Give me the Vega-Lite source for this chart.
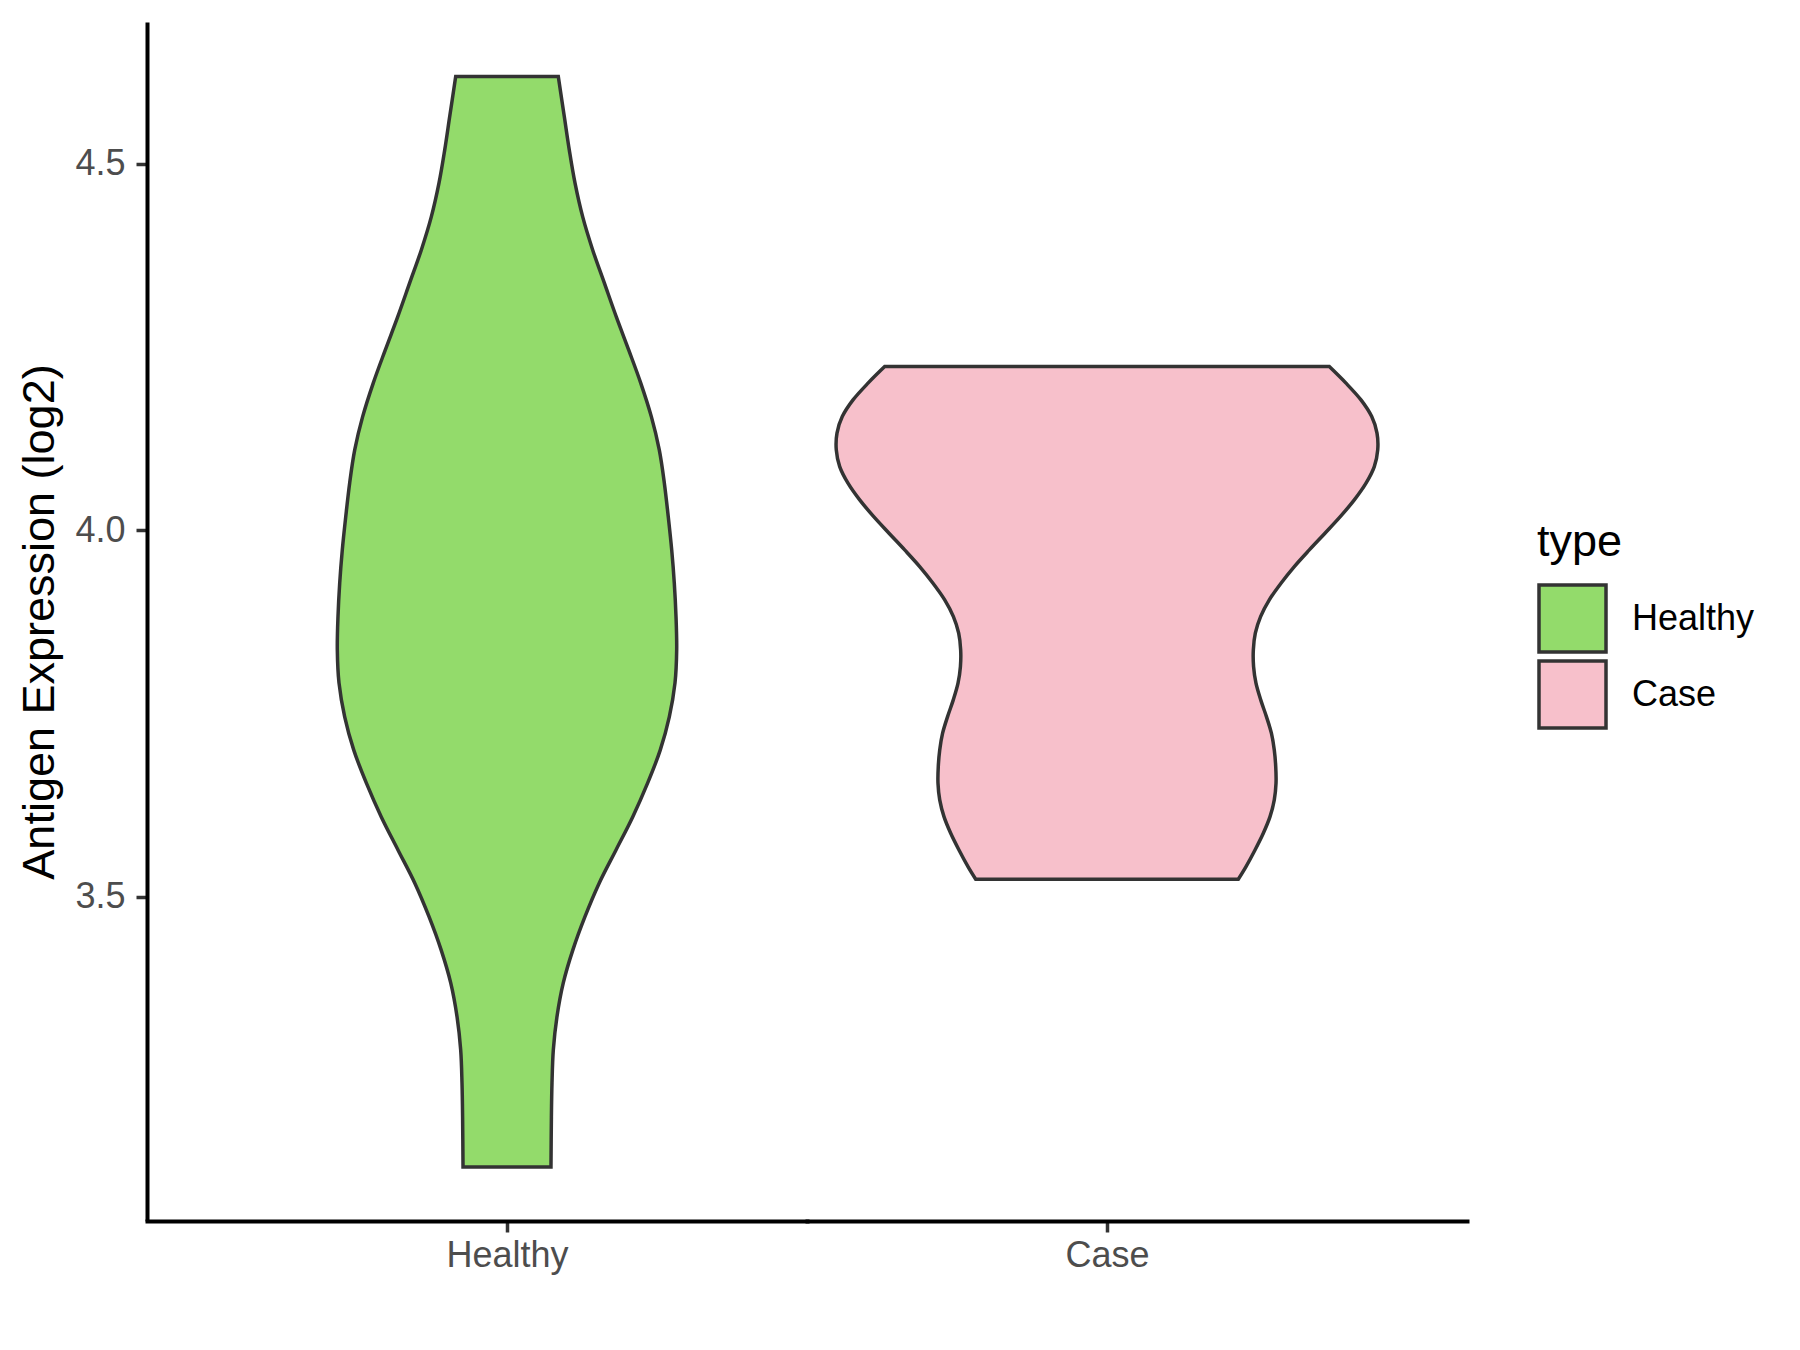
{
  "$schema": "https://vega.github.io/schema/vega-lite/v6.json",
  "background": "white",
  "padding": {"left": 17, "top": 22, "right": 5, "bottom": 5},
  "datasets": {
    "healthy": [
      {"type": "Healthy", "value": 4.6186, "density": 0.171},
      {"type": "Healthy", "value": 4.5640, "density": 0.191},
      {"type": "Healthy", "value": 4.5186, "density": 0.2076},
      {"type": "Healthy", "value": 4.4736, "density": 0.2266},
      {"type": "Healthy", "value": 4.4272, "density": 0.2524},
      {"type": "Healthy", "value": 4.3822, "density": 0.2856},
      {"type": "Healthy", "value": 4.3372, "density": 0.3244},
      {"type": "Healthy", "value": 4.2909, "density": 0.3644},
      {"type": "Healthy", "value": 4.2459, "density": 0.4056},
      {"type": "Healthy", "value": 4.2009, "density": 0.4456},
      {"type": "Healthy", "value": 4.1545, "density": 0.4814},
      {"type": "Healthy", "value": 4.1095, "density": 0.5076},
      {"type": "Healthy", "value": 4.0645, "density": 0.5244},
      {"type": "Healthy", "value": 4.0181, "density": 0.5376},
      {"type": "Healthy", "value": 3.9731, "density": 0.549},
      {"type": "Healthy", "value": 3.9281, "density": 0.5576},
      {"type": "Healthy", "value": 3.8818, "density": 0.5634},
      {"type": "Healthy", "value": 3.8368, "density": 0.5656},
      {"type": "Healthy", "value": 3.7918, "density": 0.56},
      {"type": "Healthy", "value": 3.7454, "density": 0.541},
      {"type": "Healthy", "value": 3.7004, "density": 0.511},
      {"type": "Healthy", "value": 3.6554, "density": 0.469},
      {"type": "Healthy", "value": 3.6090, "density": 0.419},
      {"type": "Healthy", "value": 3.5640, "density": 0.3634},
      {"type": "Healthy", "value": 3.5190, "density": 0.3076},
      {"type": "Healthy", "value": 3.4727, "density": 0.2596},
      {"type": "Healthy", "value": 3.4277, "density": 0.2196},
      {"type": "Healthy", "value": 3.3827, "density": 0.1876},
      {"type": "Healthy", "value": 3.3363, "density": 0.1664},
      {"type": "Healthy", "value": 3.2913, "density": 0.1544},
      {"type": "Healthy", "value": 3.2463, "density": 0.15},
      {"type": "Healthy", "value": 3.2000, "density": 0.148},
      {"type": "Healthy", "value": 3.1318, "density": 0.1466}
    ],
    "case": [
      {"type": "Case", "value": 4.2231, "density": 0.741},
      {"type": "Case", "value": 4.2005, "density": 0.7966},
      {"type": "Case", "value": 4.1777, "density": 0.8466},
      {"type": "Case", "value": 4.1549, "density": 0.8824},
      {"type": "Case", "value": 4.1323, "density": 0.9},
      {"type": "Case", "value": 4.1095, "density": 0.9024},
      {"type": "Case", "value": 4.0867, "density": 0.891},
      {"type": "Case", "value": 4.0641, "density": 0.8634},
      {"type": "Case", "value": 4.0413, "density": 0.8244},
      {"type": "Case", "value": 4.0185, "density": 0.7776},
      {"type": "Case", "value": 3.9959, "density": 0.7266},
      {"type": "Case", "value": 3.9731, "density": 0.6744},
      {"type": "Case", "value": 3.9504, "density": 0.6244},
      {"type": "Case", "value": 3.9277, "density": 0.58},
      {"type": "Case", "value": 3.9050, "density": 0.541},
      {"type": "Case", "value": 3.8822, "density": 0.512},
      {"type": "Case", "value": 3.8595, "density": 0.4944},
      {"type": "Case", "value": 3.8368, "density": 0.4878},
      {"type": "Case", "value": 3.8140, "density": 0.4886},
      {"type": "Case", "value": 3.7914, "density": 0.4966},
      {"type": "Case", "value": 3.7686, "density": 0.5124},
      {"type": "Case", "value": 3.7458, "density": 0.5314},
      {"type": "Case", "value": 3.7232, "density": 0.548},
      {"type": "Case", "value": 3.7004, "density": 0.5576},
      {"type": "Case", "value": 3.6776, "density": 0.5624},
      {"type": "Case", "value": 3.6550, "density": 0.5634},
      {"type": "Case", "value": 3.6322, "density": 0.5576},
      {"type": "Case", "value": 3.6094, "density": 0.5434},
      {"type": "Case", "value": 3.5868, "density": 0.521},
      {"type": "Case", "value": 3.5640, "density": 0.4934},
      {"type": "Case", "value": 3.5413, "density": 0.4634},
      {"type": "Case", "value": 3.5241, "density": 0.4376}
    ]
  },
  "config": {
    "view": {"stroke": null},
    "font": "Liberation Sans",
    "axis": {
      "grid": false,
      "domainColor": "black",
      "domainWidth": 4,
      "tickColor": "#333333",
      "tickWidth": 3.5,
      "tickSize": 11,
      "labelColor": "#4D4D4D",
      "labelFontSize": 36,
      "labelFont": "Liberation Sans",
      "titleFont": "Liberation Sans",
      "titleFontSize": 45,
      "titleFontWeight": "normal",
      "titleColor": "black"
    },
    "axisX": {"domainCap": "square"},
    "legend": {
      "labelFont": "Liberation Sans",
      "titleFont": "Liberation Sans"
    }
  },
  "spacing": 0,
  "hconcat": [
    {
      "width": 660,
      "height": 1199,
      "data": {"name": "healthy"},
      "mark": {"type": "area", "orient": "horizontal", "interpolate": "cardinal", "stroke": "#333333", "strokeWidth": 3.5, "fillOpacity": 1},
      "encoding": {
        "y": {
          "field": "value", "type": "quantitative",
          "scale": {"domain": [3.058, 4.693], "nice": false, "zero": false},
          "axis": {"values": [3.5, 4.0, 4.5], "format": ".1f", "title": "Antigen Expression (log2)", "labelPadding": 11, "titlePadding": 12}
        },
        "x": {
          "field": "density", "type": "quantitative", "stack": "center",
          "scale": {"domain": [-0.3172, 0.7828], "nice": false, "zero": false},
          "axis": {"values": [0.2828], "labelExpr": "'Healthy'", "title": null, "labelPadding": 6}
        },
        "fill": {
          "field": "type", "type": "nominal",
          "scale": {"domain": ["Healthy", "Case"], "range": ["#93DB6B", "#F7C0CB"]},
          "legend": {
            "title": "type", "orient": "none", "legendX": 1390, "legendY": 498,
            "symbolType": "square", "symbolSize": 4489, "symbolStrokeColor": "#333333", "symbolStrokeWidth": 3.5, "symbolOpacity": 1,
            "labelFontSize": 36, "labelColor": "black", "labelOffset": 24,
            "titleFontSize": 45, "titleFontWeight": "normal", "titleColor": "black", "titlePadding": 18,
            "rowPadding": -12
          }
        }
      }
    },
    {
      "width": 660,
      "height": 1199,
      "data": {"name": "case"},
      "mark": {"type": "area", "orient": "horizontal", "interpolate": "cardinal", "stroke": "#333333", "strokeWidth": 3.5, "fillOpacity": 1},
      "encoding": {
        "y": {
          "field": "value", "type": "quantitative",
          "scale": {"domain": [3.058, 4.693], "nice": false, "zero": false},
          "axis": null
        },
        "x": {
          "field": "density", "type": "quantitative", "stack": "center",
          "scale": {"domain": [-0.0488, 1.0512], "nice": false, "zero": false},
          "axis": {"values": [0.4512], "labelExpr": "'Case'", "title": null, "labelPadding": 6}
        },
        "fill": {
          "field": "type", "type": "nominal",
          "scale": {"domain": ["Healthy", "Case"], "range": ["#93DB6B", "#F7C0CB"]}
        }
      }
    }
  ],
  "resolve": {"scale": {"x": "independent", "y": "independent", "fill": "shared"}, "legend": {"fill": "shared"}}
}
